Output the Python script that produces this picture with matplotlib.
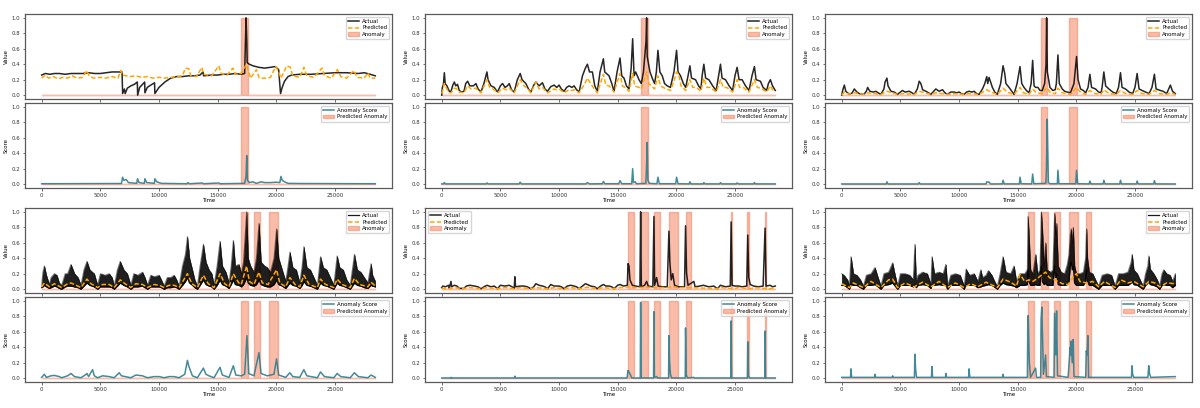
import numpy as np
import matplotlib
matplotlib.use("Agg")
import matplotlib.pyplot as plt

END_T = 28440

# ---------------- Panel 1 ----------------
P1_ACTUAL = [(0,0.26),(300,0.28),(700,0.27),(1100,0.28),(1500,0.28),(2000,0.27),(2500,0.28),(3000,0.28),(3500,0.28),
             (4000,0.29),(4500,0.28),(5000,0.28),(5500,0.29),(6000,0.30),(6500,0.30),(6850,0.30),(6900,0.02),(7050,0.08),
             (7120,0.02),(7300,0.09),(7600,0.12),(7900,0.14),(8150,0.17),(8180,0.00),(8350,0.10),(8600,0.14),(8780,0.17),
             (8800,0.03),(9000,0.10),(9300,0.13),(9620,0.16),(9650,0.02),(10000,0.10),(10500,0.17),(11000,0.22),(11500,0.24),
             (12000,0.24),(12500,0.25),(13000,0.25),(13500,0.26),(13750,0.30),(13800,0.25),(14500,0.26),(15000,0.26),
             (15500,0.27),(16000,0.27),(16500,0.28),(17000,0.27),(17300,0.28),(17420,1.0),(17480,0.72),(17520,0.42),
             (17700,0.40),(18000,0.38),(18500,0.36),(19000,0.35),(19500,0.36),(19900,0.37),(20200,0.33),(20360,0.02),
             (20500,0.10),(20700,0.18),(21000,0.24),(21300,0.26),(22000,0.27),(23000,0.27),(24000,0.28),(25000,0.29),
             (26000,0.29),(27000,0.28),(27500,0.29),(28000,0.27),(28440,0.25)]
P1_PRED = [(0,0.22),(300,0.26),(600,0.22),(1000,0.24),(1400,0.21),(1800,0.23),(2200,0.22),(2600,0.25),(3000,0.22),
           (3500,0.23),(3850,0.32),(4000,0.26),(4400,0.22),(5000,0.23),(5500,0.22),(6000,0.24),(6500,0.22),(6750,0.32),
           (6900,0.26),(7500,0.24),(8000,0.25),(8500,0.23),(9000,0.24),(9500,0.22),(10000,0.23),(10500,0.22),(11000,0.23),
           (11500,0.24),(12000,0.25),(12250,0.35),(12550,0.34),(12700,0.25),(13200,0.24),(13650,0.36),(13800,0.27),
           (14500,0.25),(15100,0.38),(15300,0.28),(15800,0.26),(16300,0.35),(16500,0.27),(17000,0.28),(17450,0.40),
           (17650,0.30),(17800,0.22),(18300,0.33),(18550,0.22),(19200,0.22),(19500,0.23),(19950,0.37),(20200,0.30),
           (20400,0.22),(20900,0.38),(21200,0.36),(21400,0.25),(22000,0.23),(22350,0.36),(22600,0.25),(23200,0.23),
           (23900,0.35),(24100,0.25),(24700,0.22),(25200,0.33),(25500,0.24),(26000,0.22),(26600,0.32),(26900,0.23),
           (27500,0.22),(27800,0.29),(28000,0.22),(28440,0.22)]
P1_SCORE = [(0,0.005),(6800,0.008),(6900,0.09),(7000,0.05),(7200,0.06),(7400,0.02),(8100,0.01),(8170,0.07),(8300,0.02),
            (8750,0.01),(8800,0.07),(8950,0.02),(9600,0.01),(9650,0.07),(9800,0.03),(10200,0.01),(12400,0.005),
            (12480,0.02),(12600,0.005),(13700,0.015),(13800,0.005),(15100,0.015),(15200,0.005),(17300,0.01),
            (17420,0.1),(17480,0.37),(17540,0.05),(17700,0.02),(18000,0.03),(18300,0.01),(18700,0.03),(19000,0.02),
            (19500,0.02),(20000,0.025),(20300,0.02),(20400,0.1),(20500,0.05),(20700,0.03),(21000,0.01),(22000,0.008),
            (28440,0.005)]
P1_SPANS = [(16960, 17580)]

# ---------------- Panel 2 ----------------
P2_ACTUAL = [(0,0.0),(60,0.10),(150,0.14),(227,0.29),(300,0.15),(450,0.12),(650,0.05),(800,0.05),
             (950,0.13),(1078,0.17),(1200,0.12),(1350,0.14),(1500,0.06),(1700,0.04),(1900,0.05),
             (2050,0.15),(2212,0.18),(2400,0.12),(2700,0.12),(2921,0.15),(3100,0.08),(3346,0.04),
             (3600,0.15),(3857,0.30),(3950,0.20),(4200,0.12),(4481,0.10),(4764,0.04),
             (5000,0.12),(5190,0.15),(5400,0.10),(5600,0.12),(5757,0.15),(5950,0.07),(6182,0.04),
             (6450,0.20),(6693,0.28),(6850,0.20),(7175,0.15),(7400,0.08),(7600,0.04),
             (7850,0.13),(8026,0.17),(8300,0.12),(8593,0.16),(8800,0.08),(9018,0.05),
             (9300,0.11),(9586,0.13),(9800,0.10),(10011,0.13),(10200,0.08),(10436,0.05),
             (10650,0.10),(10862,0.12),(11100,0.10),(11287,0.12),(11500,0.07),(11713,0.04),
             (12000,0.25),(12250,0.35),(12422,0.40),(12600,0.30),(12847,0.30),(13050,0.12),(13272,0.05),
             (13500,0.30),(13783,0.47),(13900,0.30),(14265,0.25),(14500,0.15),(14691,0.05),
             (14950,0.30),(15201,0.48),(15350,0.25),(15542,0.22),(15750,0.12),(15967,0.08),
             (16150,0.35),(16279,0.73),(16400,0.25),(16534,0.30),(16817,0.20),(17016,0.15),
             (17200,0.30),(17420,0.70),(17470,1.0),(17520,0.50),(17753,0.30),(18000,0.20),(18150,0.15),
             (18300,0.30),(18434,0.58),(18600,0.30),(18803,0.25),(19000,0.15),(19228,0.12),(19500,0.10),
             (19800,0.30),(20022,0.58),(20150,0.30),(20362,0.25),(20600,0.15),(20800,0.10),
             (21000,0.25),(21157,0.38),(21300,0.22),(21639,0.20),(21900,0.12),(22100,0.08),
             (22200,0.25),(22347,0.40),(22500,0.22),(22773,0.20),(23100,0.12),(23400,0.06),
             (23600,0.25),(23766,0.40),(23900,0.22),(24191,0.20),(24500,0.12),(24800,0.06),
             (25000,0.25),(25184,0.36),(25350,0.20),(25609,0.20),(25900,0.12),(26200,0.06),
             (26450,0.25),(26658,0.37),(26800,0.20),(27169,0.18),(27400,0.10),(27700,0.06),
             (27850,0.15),(28020,0.20),(28200,0.12),(28440,0.06)]
P2_PRED = [(0,0.02),(100,0.06),(227,0.15),(400,0.09),(650,0.03),(800,0.03),(1078,0.09),(1300,0.08),(1500,0.04),
           (1900,0.03),(2212,0.12),(2500,0.08),(2921,0.09),(3346,0.03),(3857,0.20),(4100,0.10),(4481,0.07),(4764,0.03),
           (5190,0.09),(5500,0.07),(5757,0.09),(6182,0.03),(6693,0.20),(7000,0.12),(7300,0.09),(7600,0.03),(8026,0.17),
           (8300,0.08),(8593,0.10),(9018,0.03),(9586,0.08),(9800,0.07),(10011,0.08),(10436,0.03),(10862,0.07),
           (11100,0.06),(11287,0.07),(11713,0.03),(12200,0.15),(12422,0.22),(12700,0.15),(13000,0.08),(13272,0.03),
           (13783,0.27),(14000,0.13),(14265,0.12),(14691,0.04),(15201,0.28),(15400,0.12),(15600,0.10),(15967,0.05),
           (16279,0.28),(16450,0.12),(16817,0.10),(17016,0.08),(17470,0.30),(17650,0.15),(18000,0.10),(18150,0.08),
           (18434,0.25),(18650,0.12),(19000,0.09),(19500,0.06),(19800,0.18),(20022,0.30),(20200,0.27),(20400,0.12),
           (20800,0.06),(21157,0.20),(21400,0.10),(21700,0.10),(22100,0.05),(22347,0.22),(22600,0.10),(22900,0.10),
           (23400,0.04),(23766,0.20),(24000,0.10),(24300,0.10),(24800,0.04),(25184,0.20),(25400,0.10),(25700,0.10),
           (26200,0.04),(26658,0.20),(26900,0.10),(27200,0.09),(27700,0.04),(28020,0.12),(28200,0.07),(28440,0.05)]
P2_SCORE = [(0,0.003),(150,0.003),(227,0.02),(320,0.003),(3800,0.003),(3857,0.015),(3950,0.003),(6600,0.003),
            (6693,0.025),(6800,0.003),(12300,0.003),(12422,0.02),(12600,0.003),(13700,0.005),(13783,0.035),
            (13900,0.005),(15100,0.005),(15201,0.045),(15350,0.005),(16200,0.005),(16279,0.2),(16350,0.02),
            (16500,0.03),(16600,0.005),(17400,0.01),(17450,0.17),(17520,0.54),(17580,0.05),(17700,0.01),
            (18350,0.005),(18434,0.09),(18550,0.005),(19950,0.005),(20022,0.09),(20150,0.005),(21100,0.003),
            (21157,0.03),(21250,0.003),(22300,0.003),(22347,0.02),(22450,0.003),(23700,0.003),(23766,0.02),
            (23850,0.003),(25100,0.003),(25184,0.015),(25300,0.003),(26600,0.003),(26658,0.02),(26750,0.003),
            (28440,0.003)]
P2_SPANS = [(16960, 17580)]

# ---------------- Panel 3 ----------------
P3_ACTUAL = [(0,0.0),(100,0.07),(227,0.13),(350,0.05),(650,0.01),(900,0.03),(1078,0.08),(1300,0.04),(1500,0.02),
             (1900,0.01),(2100,0.05),(2212,0.10),(2400,0.05),(2700,0.04),(2921,0.05),(3100,0.03),(3346,0.01),
             (3600,0.08),(3700,0.17),(3857,0.22),(3950,0.12),(4200,0.05),(4481,0.04),(4764,0.01),(5000,0.04),
             (5190,0.06),(5400,0.04),(5757,0.05),(6000,0.03),(6182,0.01),(6450,0.08),(6608,0.18),(6750,0.15),
             (6900,0.07),(7175,0.05),(7400,0.03),(7600,0.01),(7850,0.05),(8026,0.08),(8300,0.05),(8593,0.07),
             (8800,0.03),(9018,0.01),(9300,0.04),(9586,0.04),(9800,0.03),(10011,0.04),(10200,0.02),(10436,0.01),
             (10650,0.04),(10862,0.05),(11100,0.04),(11287,0.05),(11500,0.02),(11713,0.01),(12000,0.08),
             (12200,0.15),(12365,0.24),(12450,0.15),(12563,0.23),(12847,0.10),(13050,0.04),(13272,0.01),
             (13550,0.15),(13755,0.38),(13900,0.28),(14000,0.15),(14265,0.10),(14500,0.05),(14691,0.01),
             (14950,0.15),(15201,0.37),(15350,0.15),(15542,0.10),(15750,0.06),(15967,0.03),(16150,0.15),
             (16279,0.45),(16400,0.12),(16534,0.10),(16732,0.10),(16900,0.06),(17100,0.06),(17300,0.15),
             (17420,0.40),(17470,1.0),(17530,0.30),(17753,0.10),(18000,0.06),(18200,0.07),(18300,0.15),
             (18434,0.52),(18550,0.15),(18803,0.08),(19000,0.05),(19228,0.04),(19500,0.03),(19800,0.15),
             (20022,0.50),(20150,0.20),(20362,0.08),(20600,0.06),(20800,0.03),(21000,0.10),(21157,0.27),
             (21300,0.10),(21639,0.08),(21900,0.04),(22100,0.03),(22200,0.10),(22347,0.30),(22500,0.12),
             (22773,0.08),(23100,0.04),(23400,0.02),(23600,0.10),(23766,0.29),(23900,0.10),(24191,0.08),
             (24500,0.04),(24800,0.02),(25000,0.10),(25184,0.28),(25350,0.08),(25609,0.06),(25900,0.04),
             (26200,0.02),(26450,0.10),(26658,0.27),(26800,0.08),(27169,0.06),(27400,0.05),(27700,0.02),
             (27850,0.07),(28020,0.13),(28200,0.05),(28440,0.02)]
P3_PRED = [(0,0.0),(227,0.04),(650,0.01),(1078,0.03),(1900,0.01),(2212,0.03),(3346,0.01),(3857,0.05),(4764,0.01),
           (5190,0.02),(6182,0.01),(6608,0.05),(7600,0.01),(8026,0.03),(9018,0.01),(9586,0.02),(10436,0.01),
           (10862,0.02),(11713,0.01),(12365,0.07),(12700,0.04),(13272,0.01),(13755,0.09),(14100,0.04),(14691,0.01),
           (15201,0.10),(15500,0.03),(15967,0.01),(16279,0.08),(16600,0.03),(17100,0.02),(17470,0.10),(17800,0.03),
           (18200,0.02),(18434,0.09),(18800,0.03),(19500,0.01),(20022,0.10),(20400,0.03),(20800,0.01),(21157,0.06),
           (21600,0.02),(22100,0.01),(22347,0.07),(22800,0.02),(23400,0.01),(23766,0.06),(24200,0.02),(24800,0.01),
           (25184,0.06),(25600,0.02),(26200,0.01),(26658,0.06),(27100,0.02),(27700,0.01),(28020,0.03),(28440,0.01)]
P3_SCORE = [(0,0.002),(3800,0.002),(3857,0.03),(3950,0.002),(6550,0.002),(6608,0.02),(6700,0.002),(12300,0.002),
            (12365,0.03),(12563,0.025),(12700,0.002),(13700,0.003),(13755,0.05),(13850,0.003),(15150,0.003),
            (15201,0.09),(15300,0.005),(16200,0.003),(16279,0.13),(16380,0.005),(17400,0.01),(17450,0.17),
            (17520,0.84),(17560,0.5),(17620,0.02),(17750,0.005),(18380,0.005),(18434,0.18),(18520,0.005),
            (19950,0.005),(20022,0.18),(20120,0.005),(21100,0.003),(21157,0.04),(21250,0.003),(22280,0.003),
            (22347,0.05),(22450,0.003),(23700,0.003),(23766,0.05),(23850,0.003),(25120,0.003),(25184,0.04),
            (25280,0.003),(26600,0.003),(26658,0.045),(26750,0.003),(28440,0.002)]
P3_SPANS = [(16960, 17520), (19370, 20080)]

# ---------------- Panel 4 (dense band: time, low, high) ----------------
P4_BAND = [(0,0.02,0.05),(100,0.03,0.22),(227,0.05,0.30),(400,0.03,0.18),(650,0.01,0.06),(800,0.02,0.15),
           (1078,0.04,0.20),(1300,0.03,0.18),(1500,0.01,0.08),(1700,0.0,0.05),(2000,0.03,0.20),(2212,0.04,0.20),
           (2496,0.04,0.32),(2800,0.03,0.20),(3100,0.02,0.15),(3346,0.0,0.05),(3600,0.04,0.25),(3857,0.08,0.36),
           (4100,0.05,0.25),(4481,0.03,0.20),(4764,0.0,0.05),(5000,0.03,0.20),(5400,0.03,0.18),(5757,0.03,0.20),
           (6000,0.02,0.15),(6182,0.0,0.04),(6450,0.04,0.25),(6693,0.08,0.36),(7000,0.05,0.25),(7300,0.03,0.20),
           (7600,0.0,0.05),(7850,0.03,0.20),(8200,0.03,0.18),(8593,0.04,0.22),(8800,0.02,0.15),(9018,0.0,0.05),
           (9300,0.03,0.18),(9600,0.03,0.16),(10011,0.03,0.18),(10200,0.02,0.12),(10436,0.0,0.04),(10700,0.02,0.15),
           (11000,0.02,0.15),(11287,0.03,0.18),(11500,0.02,0.12),(11713,0.0,0.04),(12000,0.05,0.30),(12250,0.10,0.45),
           (12422,0.15,0.68),(12600,0.08,0.40),(12847,0.05,0.25),(13050,0.02,0.12),(13272,0.0,0.04),(13500,0.05,0.30),
           (13783,0.12,0.58),(14000,0.06,0.35),(14265,0.04,0.25),(14500,0.03,0.20),(14691,0.0,0.05),(14950,0.05,0.30),
           (15201,0.12,0.62),(15400,0.06,0.30),(15700,0.04,0.22),(15967,0.01,0.08),(16150,0.06,0.30),(16336,0.12,0.63),
           (16500,0.06,0.30),(16817,0.05,0.32),(17016,0.03,0.20),(17200,0.06,0.35),(17470,0.15,1.00),(17600,0.08,0.40),
           (17800,0.05,0.30),(18094,0.04,0.22),(18300,0.06,0.40),(18519,0.12,0.85),(18700,0.06,0.35),(19000,0.04,0.30),
           (19228,0.03,0.28),(19500,0.03,0.22),(19800,0.06,0.40),(20022,0.12,0.78),(20200,0.06,0.40),(20500,0.04,0.25),
           (20800,0.01,0.10),(21000,0.05,0.30),(21157,0.08,0.48),(21400,0.05,0.28),(21700,0.04,0.25),(22000,0.01,0.08),
           (22200,0.05,0.30),(22347,0.10,0.55),(22600,0.05,0.28),(22900,0.04,0.25),(23200,0.02,0.15),(23500,0.0,0.05),
           (23766,0.08,0.42),(24000,0.05,0.28),(24300,0.04,0.25),(24600,0.02,0.15),(24900,0.0,0.05),(25184,0.08,0.43),
           (25400,0.05,0.28),(25700,0.04,0.25),(26000,0.02,0.12),(26300,0.0,0.05),(26658,0.08,0.45),(26900,0.05,0.25),
           (27200,0.04,0.22),(27500,0.02,0.15),(27800,0.01,0.08),(28076,0.05,0.33),(28200,0.04,0.18),(28440,0.03,0.10)]
P4_PRED = [(0,0.03),(227,0.08),(650,0.03),(1078,0.07),(1700,0.02),(2212,0.07),(2496,0.08),(3346,0.02),(3857,0.13),
           (4200,0.07),(4764,0.02),(5190,0.06),(5757,0.06),(6182,0.02),(6693,0.12),(7100,0.07),(7600,0.02),(8026,0.07),
           (8593,0.06),(9018,0.02),(9586,0.06),(10011,0.05),(10436,0.02),(10862,0.05),(11287,0.05),(11713,0.02),
           (12422,0.20),(12800,0.07),(13272,0.02),(13783,0.18),(14200,0.07),(14691,0.02),(15201,0.20),(15600,0.07),
           (15967,0.03),(16336,0.20),(16800,0.08),(17016,0.06),(17470,0.30),(17700,0.10),(18094,0.06),(18519,0.22),
           (18800,0.08),(19300,0.06),(20022,0.25),(20300,0.08),(20800,0.03),(21157,0.15),(21600,0.06),(22000,0.03),
           (22347,0.18),(22800,0.06),(23500,0.02),(23766,0.13),(24200,0.06),(24900,0.02),(25184,0.13),(25600,0.06),
           (26300,0.02),(26658,0.14),(27100,0.06),(27800,0.03),(28076,0.09),(28440,0.04)]
P4_SCORE = [(0,0.01),(227,0.05),(400,0.01),(800,0.03),(1078,0.035),(1500,0.02),(1700,0.005),(2212,0.03),(2496,0.06),
            (2800,0.02),(3346,0.005),(3700,0.04),(3857,0.06),(4000,0.02),(4339,0.11),(4481,0.03),(4764,0.005),
            (5190,0.03),(5757,0.02),(6182,0.005),(6608,0.07),(6800,0.03),(7600,0.005),(8026,0.04),(8593,0.03),
            (9018,0.005),(9586,0.02),(10011,0.02),(10436,0.005),(10862,0.02),(11287,0.02),(11713,0.005),(12200,0.05),
            (12422,0.23),(12550,0.15),(12847,0.03),(13272,0.005),(13783,0.13),(14000,0.05),(14265,0.03),(14691,0.005),
            (15201,0.14),(15400,0.04),(15967,0.01),(16336,0.16),(16550,0.04),(17016,0.03),(17300,0.05),(17500,0.55),
            (17650,0.06),(18094,0.03),(18519,0.33),(18700,0.06),(19228,0.03),(19800,0.05),(20022,0.25),(20200,0.04),
            (20800,0.01),(21157,0.07),(21400,0.02),(22000,0.01),(22347,0.11),(22600,0.03),(23500,0.005),(23766,0.08),
            (24100,0.02),(24900,0.005),(25184,0.06),(25500,0.02),(26300,0.005),(26658,0.07),(27000,0.02),(27800,0.005),
            (28076,0.04),(28440,0.01)]
P4_SPANS = [(16960, 17580), (18090, 18600), (19370, 20140)]

# ---------------- Panel 5 ----------------
P5_ACTUAL = [(0,0.02),(100,0.04),(300,0.03),(600,0.05),(650,0.01),(794,0.10),(850,0.03),(1078,0.05),(1300,0.04),
             (1500,0.01),(1900,0.01),(2100,0.04),(2400,0.05),(2800,0.04),(3100,0.03),(3346,0.005),(3600,0.03),
             (3857,0.05),(4200,0.03),(4481,0.04),(4764,0.005),(5000,0.05),(5400,0.04),(5757,0.05),(6000,0.03),
             (6182,0.01),(6239,0.16),(6300,0.03),(6693,0.04),(7000,0.04),(7300,0.03),(7600,0.005),(7850,0.03),
             (8026,0.07),(8300,0.05),(8593,0.04),(8800,0.03),(9018,0.005),(9300,0.06),(9586,0.04),(10011,0.04),
             (10200,0.03),(10436,0.005),(10700,0.04),(11000,0.05),(11287,0.04),(11500,0.03),(11713,0.005),
             (12000,0.04),(12250,0.07),(12422,0.06),(12700,0.04),(13050,0.03),(13272,0.005),(13550,0.04),
             (13783,0.06),(14000,0.04),(14265,0.04),(14500,0.03),(14691,0.005),(15000,0.05),(15201,0.06),
             (15500,0.04),(15825,0.05),(15882,0.33),(15967,0.30),(16050,0.12),(16250,0.05),(16534,0.04),
             (16900,0.03),(16959,1.0),(17016,0.03),(17300,0.05),(17470,0.10),(17600,0.04),(18000,0.03),
             (18094,0.94),(18150,0.05),(18320,0.15),(18450,0.04),(18800,0.03),(19228,0.03),(19370,0.75),
             (19450,0.35),(19568,0.12),(19700,0.20),(19850,0.05),(20200,0.03),(20700,0.03),(20788,0.82),
             (20873,0.21),(21000,0.05),(21497,0.10),(21600,0.03),(22000,0.04),(22300,0.05),(22773,0.03),
             (23200,0.04),(23500,0.005),(23766,0.05),(24191,0.03),(24600,0.04),(24673,0.87),(24758,0.05),
             (25000,0.04),(25300,0.04),(25609,0.03),(26000,0.04),(26091,0.70),(26176,0.15),(26300,0.06),
             (26600,0.04),(27000,0.03),(27400,0.04),(27566,0.79),(27650,0.04),(28000,0.05),(28200,0.03),(28440,0.04)]
P5_PRED = [(0,0.01),(650,0.005),(1078,0.02),(1700,0.005),(2400,0.02),(3346,0.005),(3857,0.02),(4764,0.005),
           (5400,0.02),(6182,0.005),(6693,0.02),(7600,0.005),(8026,0.02),(9018,0.005),(9586,0.02),(10436,0.005),
           (11000,0.02),(11713,0.005),(12422,0.025),(13272,0.005),(13783,0.02),(14691,0.005),(15201,0.02),
           (15967,0.03),(16534,0.02),(17470,0.025),(18320,0.02),(19228,0.02),(19700,0.03),(20200,0.02),
           (21000,0.02),(22000,0.015),(23500,0.005),(23766,0.02),(24900,0.005),(25300,0.02),(26300,0.005),
           (26658,0.02),(27800,0.005),(28440,0.01)]
P5_SCORE = [(0,0.002),(794,0.002),(800,0.01),(850,0.002),(6200,0.002),(6239,0.025),(6300,0.002),(15800,0.002),
            (15882,0.1),(15967,0.08),(16100,0.04),(16200,0.002),(16930,0.002),(16959,0.98),(17000,0.002),
            (18060,0.002),(18094,0.86),(18130,0.01),(18320,0.02),(18400,0.002),(19340,0.002),(19370,0.55),
            (19420,0.23),(19500,0.05),(19600,0.002),(20760,0.002),(20788,0.65),(20850,0.04),(20950,0.002),
            (21497,0.01),(21550,0.002),(24640,0.002),(24673,0.74),(24710,0.002),(26060,0.002),(26091,0.47),
            (26150,0.03),(26250,0.002),(27540,0.002),(27566,0.61),(27600,0.002),(28440,0.002)]
P5_SPANS = [(15850, 16390), (16960, 17550), (18090, 18580), (19370, 20140), (20790, 21270),
            (24630, 24740), (26040, 26160), (27520, 27630)]

# ---------------- Panel 6 (dense band: time, low, high) ----------------
P6_BAND = [(0,0.05,0.20),(200,0.05,0.18),(500,0.02,0.12),(650,0.0,0.04),(794,0.06,0.42),(1000,0.05,0.20),
           (1300,0.05,0.18),(1600,0.02,0.12),(1850,0.0,0.04),(2100,0.05,0.18),(2500,0.05,0.20),(2836,0.06,0.28),
           (3100,0.03,0.15),(3346,0.0,0.04),(3600,0.05,0.20),(4000,0.06,0.22),(4339,0.08,0.34),(4500,0.05,0.22),
           (4764,0.0,0.04),(5000,0.05,0.20),(5400,0.05,0.20),(5800,0.05,0.18),(6100,0.03,0.12),(6239,0.06,0.58),
           (6350,0.02,0.10),(6500,0.05,0.18),(6900,0.06,0.22),(7300,0.05,0.20),(7600,0.01,0.06),(7700,0.06,0.42),
           (7900,0.05,0.20),(8300,0.06,0.22),(8650,0.05,0.20),(8877,0.06,0.32),(9018,0.0,0.04),(9300,0.05,0.18),
           (9700,0.05,0.20),(10100,0.05,0.18),(10436,0.0,0.04),(10600,0.06,0.26),(10900,0.05,0.18),(11300,0.05,0.20),
           (11600,0.02,0.10),(11855,0.03,0.25),(12000,0.04,0.15),(12300,0.05,0.18),(12507,0.06,0.24),(12800,0.05,0.18),
           (13100,0.02,0.08),(13272,0.0,0.04),(13500,0.05,0.20),(13755,0.08,0.42),(14000,0.06,0.22),(14400,0.05,0.20),
           (14691,0.04,0.30),(14900,0.02,0.10),(15200,0.05,0.20),(15600,0.05,0.20),(15825,0.06,0.25),(15882,0.25,0.94),
           (15967,0.10,0.70),(16100,0.05,0.25),(16300,0.05,0.20),(16534,0.06,0.45),(16700,0.05,0.20),(16900,0.05,0.25),
           (17016,0.30,1.00),(17100,0.10,0.80),(17250,0.06,0.30),(17384,0.08,0.60),(17500,0.05,0.25),(17800,0.05,0.22),
           (18000,0.05,0.25),(18150,0.30,0.98),(18250,0.15,0.70),(18320,0.20,0.85),(18450,0.06,0.30),(18700,0.05,0.22),
           (19000,0.05,0.20),(19228,0.06,0.32),(19370,0.10,0.45),(19480,0.30,0.70),(19568,0.35,0.78),(19650,0.25,0.60),
           (19739,0.30,0.80),(19850,0.08,0.30),(20000,0.05,0.20),(20300,0.05,0.20),(20600,0.05,0.22),(20788,0.10,0.40),
           (20873,0.25,0.78),(20950,0.10,0.40),(21100,0.05,0.22),(21400,0.05,0.20),(21700,0.02,0.10),(21900,0.0,0.04),
           (22200,0.05,0.18),(22631,0.05,0.20),(23000,0.05,0.18),(23300,0.0,0.04),(23600,0.05,0.20),(24000,0.05,0.20),
           (24400,0.05,0.22),(24673,0.08,0.35),(24758,0.10,0.45),(24900,0.06,0.25),(25200,0.05,0.20),(25500,0.02,0.10),
           (25700,0.0,0.04),(25900,0.05,0.20),(26091,0.08,0.30),(26176,0.10,0.43),(26300,0.06,0.26),(26600,0.05,0.20),
           (26900,0.03,0.12),(27100,0.0,0.04),(27300,0.05,0.20),(27452,0.06,0.25),(27700,0.05,0.20),(28000,0.05,0.18),
           (28200,0.02,0.10),(28440,0.05,0.20)]
P6_PRED = [(0,0.07),(650,0.02),(1000,0.08),(1850,0.02),(2500,0.10),(3346,0.02),(4000,0.12),(4339,0.13),(4764,0.02),
           (5400,0.08),(6182,0.03),(6900,0.09),(7600,0.03),(8300,0.10),(9018,0.02),(9700,0.08),(10436,0.02),
           (11000,0.07),(11600,0.03),(12300,0.09),(13272,0.02),(13755,0.13),(14400,0.09),(14900,0.04),(15200,0.19),
           (15600,0.10),(15967,0.12),(16300,0.10),(16700,0.14),(17016,0.18),(17384,0.22),(17700,0.15),(18150,0.12),
           (18450,0.10),(18800,0.07),(19300,0.06),(19700,0.15),(20000,0.20),(20300,0.10),(20873,0.08),(21400,0.10),
           (21900,0.03),(22400,0.10),(23300,0.02),(23800,0.12),(24400,0.08),(24900,0.10),(25700,0.03),(26176,0.10),
           (26700,0.08),(27100,0.03),(27700,0.08),(28440,0.07)]
P6_SCORE = [(0,0.01),(750,0.01),(794,0.12),(850,0.01),(2800,0.01),(2836,0.05),(2900,0.01),(4300,0.01),(4339,0.03),
            (4400,0.01),(6200,0.01),(6239,0.31),(6300,0.12),(6380,0.01),(7650,0.01),(7700,0.15),(7750,0.01),
            (8850,0.01),(8877,0.06),(8950,0.01),(10820,0.01),(10862,0.12),(10920,0.01),(13700,0.01),(13755,0.05),
            (13800,0.01),(15830,0.01),(15860,0.67),(15900,0.81),(15960,0.40),(16000,0.20),(16100,0.01),(16534,0.13),
            (16600,0.01),(16960,0.01),(17000,0.76),(17060,0.92),(17120,0.55),(17200,0.05),(17384,0.30),(17450,0.02),
            (18100,0.01),(18150,0.84),(18250,0.30),(18320,0.87),(18400,0.03),(19300,0.01),(19480,0.40),(19530,0.30),
            (19568,0.48),(19650,0.20),(19739,0.50),(19800,0.02),(20800,0.01),(20850,0.35),(20920,0.30),(20986,0.55),
            (21050,0.01),(21400,0.01),(24700,0.01),(24758,0.16),(24800,0.05),(24900,0.01),(26100,0.01),(26176,0.16),
            (26250,0.05),(26350,0.01),(28440,0.02)]
P6_SPANS = [(15850, 16390), (16960, 17550), (18090, 18580), (19370, 20140), (20790, 21210)]

TICKS_X = [0, 5000, 10000, 15000, 20000, 25000]
TICKS_Y = [0.0, 0.2, 0.4, 0.6, 0.8, 1.0]

PANELS = [
    dict(actual=P1_ACTUAL, pred=P1_PRED, score=P1_SCORE, spans=P1_SPANS, band=None, loc="upper right"),
    dict(actual=P2_ACTUAL, pred=P2_PRED, score=P2_SCORE, spans=P2_SPANS, band=None, loc="upper right"),
    dict(actual=P3_ACTUAL, pred=P3_PRED, score=P3_SCORE, spans=P3_SPANS, band=None, loc="upper right"),
    dict(actual=None, pred=P4_PRED, score=P4_SCORE, spans=P4_SPANS, band=P4_BAND, loc="upper right"),
    dict(actual=P5_ACTUAL, pred=P5_PRED, score=P5_SCORE, spans=P5_SPANS, band=None, loc="upper left"),
    dict(actual=None, pred=P6_PRED, score=P6_SCORE, spans=P6_SPANS, band=P6_BAND, loc="upper right"),
]

# ---------------- styling ----------------
FS = 3.9
plt.rcParams.update({
    "font.family": "DejaVu Sans",
    "font.size": FS,
    "axes.linewidth": 0.9,
    "axes.edgecolor": "#5a5a5a",
    "xtick.major.size": 1.8,
    "ytick.major.size": 1.8,
    "xtick.major.width": 0.5,
    "ytick.major.width": 0.5,
    "xtick.major.pad": 1.5,
    "ytick.major.pad": 1.5,
    "xtick.color": "#333333",
    "ytick.color": "#333333",
    "axes.labelpad": 2.0,
})

SPAN_COLOR = "#f47a55"
SPAN_ALPHA = 0.5
ACT_COLOR = "black"
PRED_COLOR = "#ffa500"
SCORE_COLOR = "#2f7d8f"

W, H = 1200, 408
fig = plt.figure(figsize=(W / 100, H / 100), dpi=100)

col_left = [25, 425, 825]
ax_w = 367
row_top = [14, 208]
ax_h = 85
gap = 4


def label_steps(spans):
    xs, ys = [0], [0]
    for s, e in spans:
        xs += [s, s, e, e]
        ys += [0, 1, 1, 0]
    xs.append(END_T)
    ys.append(0)
    return np.array(xs, float), np.array(ys, float)


def to_arr(pairs):
    a = np.array(pairs, dtype=float)
    return a[:, 0], a[:, 1]


for i, p in enumerate(PANELS):
    r, c = divmod(i, 3)
    left = col_left[c] / W
    top1 = row_top[r]
    ax1 = fig.add_axes([left, 1 - (top1 + ax_h) / H, ax_w / W, ax_h / H])
    top2 = top1 + ax_h + gap
    ax2 = fig.add_axes([left, 1 - (top2 + ax_h) / H, ax_w / W, ax_h / H], sharex=ax1)

    lx, ly = label_steps(p["spans"])

    # value plot
    if p["band"] is not None:
        b = np.array(p["band"], dtype=float)
        ax1.fill_between(b[:, 0], b[:, 1], b[:, 2], color=ACT_COLOR, alpha=0.88, lw=0.3, zorder=2)
        ax1.plot(b[:, 0], b[:, 2], color=ACT_COLOR, lw=0.7, alpha=0.5, zorder=2)
        ax1.plot(b[:, 0], b[:, 1], color=ACT_COLOR, lw=0.9, alpha=0.9, zorder=2, label="Actual")
    else:
        t, v = to_arr(p["actual"])
        ax1.plot(t, v, color=ACT_COLOR, lw=1.1, alpha=0.85, zorder=2, label="Actual")
    t, v = to_arr(p["pred"])
    ax1.plot(t, v, color=PRED_COLOR, lw=1.1, ls="--", dashes=(3, 1.5), zorder=3, label="Predicted")
    ax1.fill_between(lx, 0, ly, color=SPAN_COLOR, alpha=SPAN_ALPHA, lw=1.0, zorder=1, label="Anomaly")

    # score plot
    t, v = to_arr(p["score"])
    ax2.plot(t, v, color=SCORE_COLOR, lw=1.1, alpha=0.9, zorder=2, label="Anomaly Score")
    ax2.fill_between(lx, 0, ly, color=SPAN_COLOR, alpha=SPAN_ALPHA, lw=1.0, zorder=1, label="Predicted Anomaly")

    for ax in (ax1, ax2):
        ax.set_ylim(-0.05, 1.05)
        ax.set_yticks(TICKS_Y)
        ax.tick_params(labelsize=FS)
    ax1.set_xlim(-0.05 * END_T, 1.05 * END_T)
    ax2.set_xticks(TICKS_X)
    ax1.tick_params(labelbottom=False)
    ax1.set_ylabel("Value", fontsize=FS)
    ax2.set_ylabel("Score", fontsize=FS)
    ax2.set_xlabel("Time", fontsize=FS, labelpad=0.5)

    leg_kw = dict(fontsize=FS, handlelength=2.0, borderpad=0.4, labelspacing=0.3, handletextpad=0.6,
                  framealpha=0.8, edgecolor="#cccccc")
    ax1.legend(loc=p["loc"], **leg_kw)
    ax2.legend(loc="upper right", **leg_kw)

fig.savefig("out.png", dpi=100)
